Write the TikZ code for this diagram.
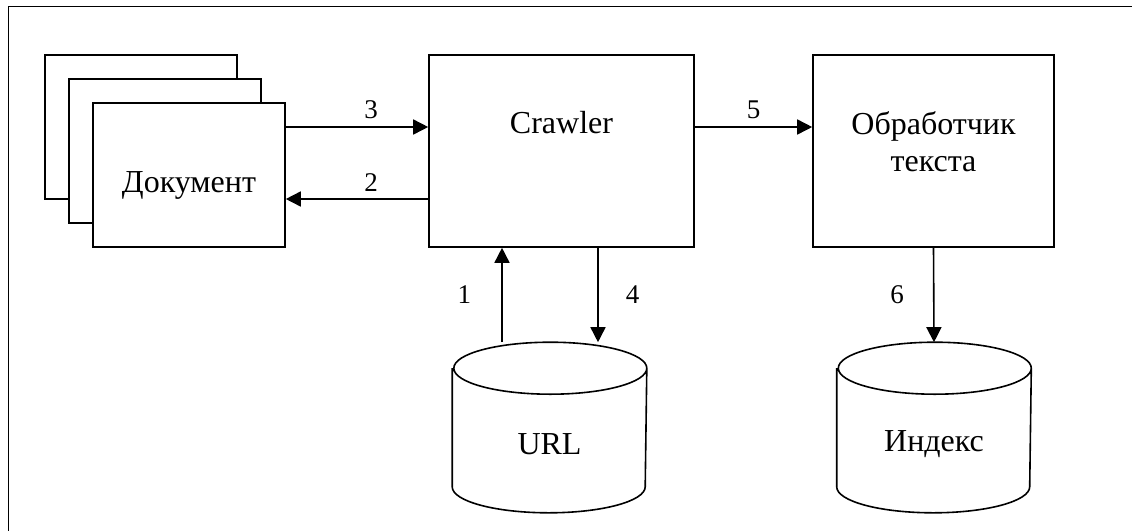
\documentclass[tikz,border=0pt]{standalone}
\usepackage{fontspec}
\setmainfont{Liberation Serif}
\usetikzlibrary{arrows.meta}
\begin{document}
\begin{tikzpicture}[x=1pt,y=-1pt,line width=1.6pt,
        box/.style={draw,fill=white,inner sep=0pt,minimum width=#1,minimum height=192pt},
        box/.default=192pt,
        num/.style={font=\fontsize{27}{32}\selectfont,inner sep=7pt},
        txt/.style={font=\fontsize{32}{37}\selectfont,align=center},
        >={Triangle[length=15pt,width=15pt]}]
        \useasboundingbox (0,0) rectangle (1132,531);
        \draw (1132,6.5) -- (8.5,6.5) -- (8.5,531);
        % pile of documents
        \foreach \i/\x/\y in {3/141/127,2/165/151,1/189/175} {\node[box,minimum height=144pt] (doc\i) at (\x,\y) {};}
        \node[txt] at ([yshift=-10pt]doc1.center) {Документ};
        \node[box=265pt] (crawler) at (561.5,151) {};
        \node[txt] at ([yshift=28pt]crawler.center) {Crawler};
        \node[box=241pt] (proc) at (933.5,151) {};
        \node[txt] at ([yshift=9.5pt]proc.center) {Обработчик\\текста};
        % databases
        \foreach \n/\x/\t in {url/549.5/URL,idx/934/Индекс} {
            \node[inner sep=0pt,minimum width=193pt,minimum height=169pt] (\n) at (\x,427.5) {};
            \draw[fill=white] ([yshift=-26pt]\n.north west) -- ([yshift=26pt]\n.south west)
                arc[start angle=180,end angle=360,x radius=96.5pt,y radius=26pt] -- ([yshift=-26pt]\n.north east)
                arc[start angle=0,end angle=360,x radius=96.5pt,y radius=26pt];
            \node[txt] at ([yshift=-17pt]\n.center) {\t};
        }
        \draw[->] ([xshift=-47.5pt]url.north) -- node[num,left=23pt] {1} ([xshift=-59.5pt]crawler.south);
        \draw[->] ([yshift=-48pt]crawler.west) -- node[num,pos=0.4,above] {2} ([yshift=-24pt]doc1.east);
        \draw[->] ([yshift=48pt]doc1.east) -- node[num,pos=0.6,above] {3} ([yshift=24pt]crawler.west);
        \draw[->] ([xshift=36.5pt]crawler.south) -- node[num,right=20pt] {4} ([xshift=48.5pt]url.north);
        \draw[->] ([yshift=24pt]crawler.east) -- node[num,above] {5} ([yshift=24pt]proc.west);
        \draw[->] (proc.south) -- node[num,left=22pt] {6} (idx.north);
    \end{tikzpicture}
\end{document}
